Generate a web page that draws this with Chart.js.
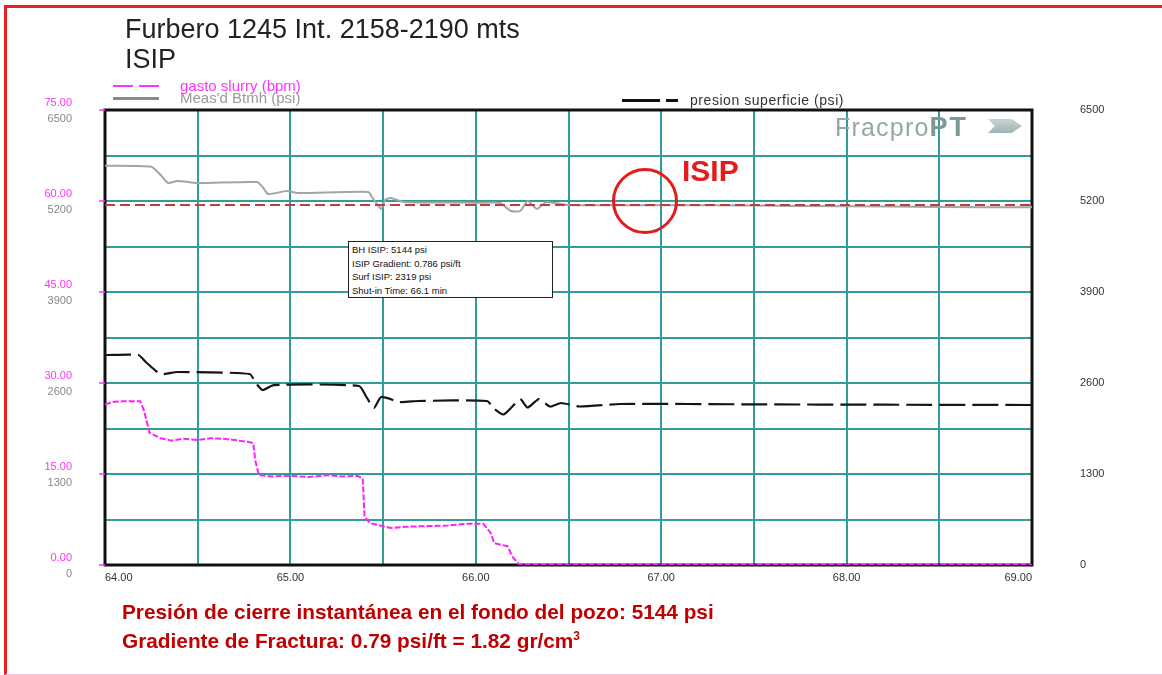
<!DOCTYPE html>
<html>
<head>
<meta charset="utf-8">
<script src="https://cdn.jsdelivr.net/npm/chart.js@4.4.1/dist/chart.umd.min.js"></script>
<style>
  body { margin: 0; background: #fff; }
  #wrap { position: relative; width: 1162px; height: 675px; overflow: hidden; font-family: "Liberation Sans", Arial, sans-serif; }
  #chart { position: absolute; left: 0; top: 0; }
  .abs { position: absolute; white-space: nowrap; }
  .frame { left: 4px; top: 5px; width: 1200px; height: 666px; border-top: 3px solid #e62222; border-left: 3px solid #e62222; border-bottom: 1px solid #f6c6dc; }
  .title { left: 125px; top: 14px; font-size: 27px; line-height: 30px; color: #222; }
  .leg { font-size: 15px; line-height: 16px; }
  .seg { position: absolute; height: 2px; }
  .note { left: 348px; top: 241px; width: 197px; height: 53px; border: 1.5px solid #222; background: #fff; font-size: 9.5px; line-height: 13.5px; padding: 1px 3px; color: #111; }
  .logo { left: 835px; top: 112px; font-size: 25px; color: #94a8a8; letter-spacing: 1.2px; }
  .logo b { color: #7e9797; font-size: 27px; letter-spacing: 2px; }
  .arrow { left: 988px; top: 119px; width: 34px; height: 14px; background: linear-gradient(#c8d4d4, #9fb3b3); clip-path: polygon(0 0, 70% 0, 100% 50%, 70% 100%, 0 100%, 20% 50%); }
  .circle { left: 612px; top: 168px; width: 66px; height: 66px; box-sizing: border-box; border: 3px solid #e31b1b; border-radius: 50%; }
  .isip { left: 682px; top: 154px; font-size: 30px; font-weight: bold; color: #e31b1b; }
  .foot { left: 122px; top: 597px; font-size: 20.8px; line-height: 29px; font-weight: bold; color: #c00000; }
  .foot sup { font-size: 12px; line-height: 0; }
</style>
</head>
<body>
<div id="wrap">
  <canvas id="chart" width="1162" height="675"></canvas>
  <div class="abs frame"></div>
  <div class="abs title">Furbero 1245 Int. 2158-2190 mts<br>ISIP</div>

  <div class="seg" style="left:113px;top:85px;width:20px;background:#ff33ff"></div>
  <div class="seg" style="left:139px;top:85px;width:20px;background:#ff33ff"></div>
  <div class="abs leg" style="left:180px;top:78px;color:#ff33ff">gasto slurry (bpm)</div>
  <div class="seg" style="left:113px;top:97px;width:46px;height:3px;background:#8a8a8a"></div>
  <div class="abs leg" style="left:180px;top:90px;color:#999">Meas'd Btmh (psi)</div>

  <div class="seg" style="left:622px;top:99px;width:38px;height:3px;background:#111"></div>
  <div class="seg" style="left:666px;top:99px;width:12px;height:3px;background:#111"></div>
  <div class="abs" style="left:690px;top:92px;font-size:14px;color:#333;letter-spacing:0.55px">presion superficie (psi)</div>

  <div class="abs logo">Fracpro<b>PT</b></div>
  <div class="abs arrow"></div>

  <div class="abs note">BH ISIP: 5144 psi<br>ISIP Gradient: 0.786 psi/ft<br>Surf ISIP: 2319 psi<br>Shut-in Time: 66.1 min</div>

  <div class="abs circle"></div>
  <div class="abs isip">ISIP</div>

  <div class="abs foot">Presión de cierre instantánea en el fondo del pozo: 5144 psi<br>Gradiente de Fractura: 0.79 psi/ft = 1.82 gr/cm<sup>3</sup></div>
</div>

<script>
// time axis (min) and readings taken off the plot
var slurryTime = [64.00, 64.05, 64.10, 64.19, 64.21, 64.24, 64.30, 64.36, 64.42, 64.50, 64.57, 64.64, 64.70, 64.77, 64.80, 64.81, 64.83, 64.90, 65.00, 65.10, 65.20, 65.28, 65.36, 65.39, 65.40, 65.43, 65.54, 65.62, 65.72, 65.85, 65.95, 66.04, 66.08, 66.10, 66.17, 66.20, 66.23, 66.25, 69.00];
var slurry     = [26.5, 26.9, 27.0, 27.0, 25.5, 21.8, 20.9, 20.5, 20.8, 20.6, 20.9, 20.8, 20.6, 20.3, 20.1, 17.3, 14.8, 14.6, 14.7, 14.5, 14.8, 14.6, 14.7, 14.3, 7.9, 6.9, 6.1, 6.3, 6.4, 6.5, 6.8, 6.8, 5.3, 3.6, 3.1, 1.3, 0.2, 0, 0];

var btmhTime = [64.00, 64.25, 64.30, 64.34, 64.39, 64.50, 64.82, 64.85, 64.88, 64.98, 65.04, 65.42, 65.44, 65.49, 65.51, 65.54, 65.61, 65.80, 66.00, 66.13, 66.19, 66.24, 66.28, 66.33, 66.38, 66.49, 67.00, 67.50, 68.00, 68.50, 69.00];
var btmh     = [5705, 5690, 5571, 5457, 5486, 5457, 5471, 5400, 5300, 5343, 5314, 5329, 5257, 5086, 5214, 5243, 5186, 5180, 5175, 5171, 5057, 5057, 5200, 5086, 5186, 5143, 5140, 5135, 5125, 5115, 5110];

var surfTime = [64.00, 64.18, 64.22, 64.30, 64.39, 64.78, 64.81, 64.85, 64.91, 65.37, 65.41, 65.45, 65.49, 65.59, 65.69, 66.06, 66.10, 66.15, 66.21, 66.24, 66.28, 66.34, 66.40, 66.46, 66.56, 66.78, 67.50, 68.20, 69.00];
var surf     = [3000, 3000, 2900, 2729, 2757, 2729, 2614, 2500, 2571, 2557, 2400, 2243, 2400, 2329, 2343, 2343, 2229, 2150, 2300, 2371, 2250, 2371, 2264, 2314, 2264, 2300, 2295, 2290, 2286];

var isipTime = [64.00, 69.00];
var isip     = [5144, 5144];

var bpmTicks = [0, 15, 30, 45, 60, 75];
var psiTicks = [0, 1300, 2600, 3900, 5200, 6500];

function pts(xs, ys) {
    return xs.map(function(x, i) { return { x: x, y: ys[i] }; });
}

// plot frame, magenta tick marks and the grey psi labels on the left
var extras = {
    id: 'extras',
    beforeDatasetsDraw: function(chart) {
        var a = chart.chartArea, ctx = chart.ctx;
        ctx.save();
        ctx.strokeStyle = '#111';
        ctx.lineWidth = 3;
        ctx.strokeRect(a.left, a.top, a.right - a.left, a.bottom - a.top);
        ctx.restore();
    },
    afterDraw: function(chart) {
        var ctx = chart.ctx, y = chart.scales.y, y2 = chart.scales.y2, a = chart.chartArea;
        ctx.save();
        ctx.strokeStyle = '#ff33ff';
        ctx.lineWidth = 1.5;
        bpmTicks.forEach(function(v) {
            var py = y.getPixelForValue(v);
            ctx.beginPath();
            ctx.moveTo(a.left - 6, py);
            ctx.lineTo(a.left, py);
            ctx.stroke();
        });
        ctx.fillStyle = '#888';
        ctx.font = '11px "Liberation Sans", Arial, sans-serif';
        ctx.textAlign = 'right';
        ctx.textBaseline = 'middle';
        psiTicks.forEach(function(v) {
            ctx.fillText(String(v), 72, y2.getPixelForValue(v) + 9);
        });
        ctx.restore();
    }
};

var chart = new Chart(document.getElementById('chart').getContext('2d'), {
    type: 'line',
    data: {
        datasets: [{
            label: 'gasto slurry (bpm)',
            data: pts(slurryTime, slurry),
            yAxisID: 'y',
            borderColor: '#ff22ff',
            borderWidth: 2,
            borderDash: [6, 2],
            pointRadius: 0,
            tension: 0
        }, {
            label: 'ISIP',
            data: pts(isipTime, isip),
            yAxisID: 'y2',
            borderColor: '#c83a3a',
            borderWidth: 2,
            borderDash: [10, 5],
            pointRadius: 0
        }, {
            label: "Meas'd Btmh (psi)",
            data: pts(btmhTime, btmh),
            yAxisID: 'y2',
            borderColor: '#a4a4a4',
            borderWidth: 2,
            pointRadius: 0,
            tension: 0.2
        }, {
            label: 'presion superficie (psi)',
            data: pts(surfTime, surf),
            yAxisID: 'y2',
            borderColor: '#151515',
            borderWidth: 2.2,
            borderDash: [26, 7],
            pointRadius: 0,
            tension: 0.2
        }]
    },
    options: {
        responsive: false,
        animation: false,
        layout: { padding: { left: 0, right: 0, top: 110, bottom: 86 } },
        plugins: { legend: { display: false }, tooltip: { enabled: false } },
        scales: {
            x: {
                type: 'linear',
                min: 64,
                max: 69,
                afterFit: function(s) { s.height = 24; },
                grid: { color: '#2f9d9d', lineWidth: 2, drawTicks: false },
                border: { display: false },
                ticks: {
                    stepSize: 0.5,
                    padding: 6,
                    align: 'inner',
                    color: '#333',
                    font: { size: 11, family: '"Liberation Sans", Arial, sans-serif' },
                    callback: function(v) { return v % 1 === 0 ? v.toFixed(2) : ''; }
                }
            },
            y: {
                position: 'left',
                min: 0,
                max: 75,
                afterFit: function(s) { s.width = 105; },
                grid: { color: '#2f9d9d', lineWidth: 2, drawTicks: false },
                border: { display: false },
                ticks: {
                    stepSize: 7.5,
                    padding: 33,
                    color: '#ff33ff',
                    font: { size: 11, family: '"Liberation Sans", Arial, sans-serif' },
                    callback: function(v) { return v % 15 === 0 ? [v.toFixed(2), ''] : ''; }
                }
            },
            y2: {
                position: 'right',
                min: 0,
                max: 6500,
                afterFit: function(s) { s.width = 130; },
                grid: { display: false },
                border: { display: false },
                ticks: {
                    stepSize: 1300,
                    padding: 40,
                    color: '#333',
                    font: { size: 11, family: '"Liberation Sans", Arial, sans-serif' },
                    callback: function(v) { return String(v); }
                }
            }
        }
    },
    plugins: [extras]
});
</script>
</body>
</html>
